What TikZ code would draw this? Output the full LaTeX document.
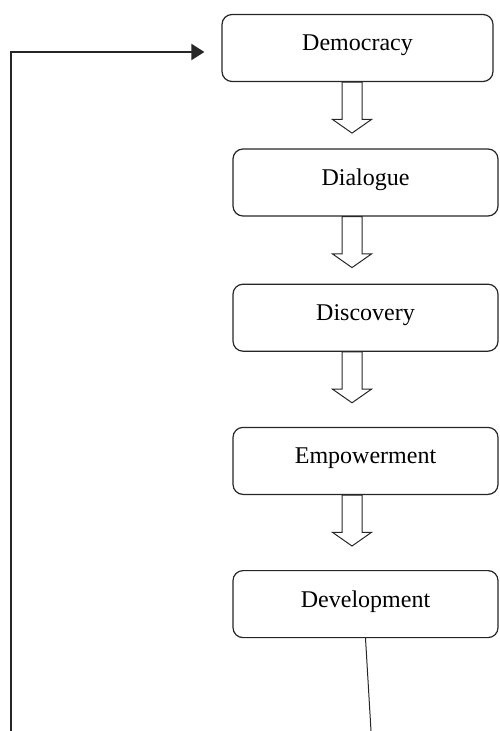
\documentclass[tikz,border=0pt]{standalone}
\usepackage{fontspec}
\setmainfont{Liberation Serif}
\usepackage{tikz}
\usetikzlibrary{arrows.meta,positioning,shapes.arrows,calc}
\tikzset{
  stage/.style={rectangle, rounded corners=5pt, draw=black!85, line width=0.6pt, align=center, minimum width=132.5pt, minimum height=33.5pt, text height=8pt, text depth=5pt, font=\fontsize{12pt}{14pt}\selectfont},
  downarrow/.style={single arrow, draw=black!85, line width=0.5pt, rotate=-90, anchor=tail, inner sep=0pt, outer sep=0pt, text height=9.5pt, text depth=0pt, text width=0pt, minimum height=25.5pt, single arrow head extend=4.75pt, single arrow tip angle=110},
  backarrow/.style={-{Triangle[length=6.5pt, width=8pt]}, line width=1pt, draw=black!85}
}

\begin{document}
\begin{tikzpicture}[x=0.5pt, y=-0.5pt, node distance=33.5pt]
  \useasboundingbox (0,0) rectangle (499,731);
  \node[stage, minimum width=135.5pt] (dem) at (357.5,48) {Democracy};
  \node[stage] (dia) at (365.5,182.5) {Dialogue};
  \node[stage, below=of dia] (dis) {Discovery};
  \node[stage, below=37.5pt of dis] (emp) {Empowerment};
  \node[stage, below=37.5pt of emp] (dev) {Development};
  % block arrows
  \node[downarrow] (a1) at (dem.south -| 352,0) {};
  \node[downarrow] (a2) at (dia.south -| 352,0) {};
  \node[downarrow] (a3) at (dis.south -| 352,0) {};
  \node[downarrow] (a4) at (emp.south -| 352,0) {};
  % feedback loop
  \coordinate (devend) at (371,731);
  \coordinate (loopend) at (11,731);
  \draw[line width=0.5pt, draw=black!85] (dev.south) -- (devend);
  \draw[backarrow, shorten >=8.5pt] (loopend) |- ([yshift=-2pt]dem.west);
\end{tikzpicture}
\end{document}
